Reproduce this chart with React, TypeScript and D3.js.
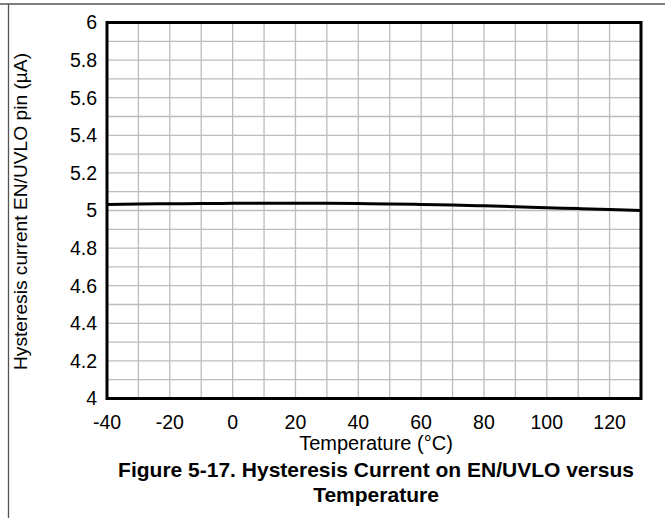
import React from "react";
import * as d3 from "d3";

const temps = [-40, -30, -20, -10, 0, 10, 20, 30, 40, 50, 60, 70, 80, 90, 100, 110, 120, 130];
const current = [5.032, 5.034, 5.036, 5.037, 5.038, 5.038, 5.039, 5.038, 5.037, 5.035, 5.032, 5.029, 5.025, 5.02, 5.015, 5.01, 5.005, 5.0];
const xTicks = [-40, -20, 0, 20, 40, 60, 80, 100, 120];
const yTicks = [4, 4.2, 4.4, 4.6, 4.8, 5, 5.2, 5.4, 5.6, 5.8, 6];
const xTitle = "Temperature (°C)";
const yTitle = "Hysteresis current EN/UVLO pin (µA)";
const titleLines = ["Figure 5-17. Hysteresis Current on EN/UVLO versus", "Temperature"];

export default function App() {
  const W = 665, H = 518;
  const L = 107, R = 641, T = 22.5, B = 398.5;
  const x = d3.scaleLinear().domain([-40, 130]).range([L, R]);
  const y = d3.scaleLinear().domain([4, 6]).range([B, T]);
  const xGrid = d3.range(-40, 131, 10);
  const yGrid = d3.range(0, 21).map((i) => 4 + i * 0.1);
  const line = d3
    .line<number>()
    .x((_, i) => x(temps[i]))
    .y((d) => y(d))
    .curve(d3.curveMonotoneX);
  const font = "'Liberation Sans', Arial, sans-serif";
  return (
    <svg
      width={W}
      height={H}
      style={{ position: "absolute", left: 0, top: 0, background: "#fff" }}
      fontFamily={font}
    >
      <line x1={0} x2={W} y1={4} y2={4} stroke="#555" strokeWidth={1.3} />
      <line x1={8.5} x2={8.5} y1={4} y2={H} stroke="#555" strokeWidth={1.3} />
      {xGrid.map((v) => (
        <line key={"xg" + v} x1={x(v)} x2={x(v)} y1={T} y2={B} stroke="#bdbdbd" strokeWidth={1.3} />
      ))}
      {yGrid.map((v, i) => (
        <line key={"yg" + i} x1={L} x2={R} y1={y(v)} y2={y(v)} stroke="#bdbdbd" strokeWidth={1.3} />
      ))}
      <path d={line(current) || ""} fill="none" stroke="#000" strokeWidth={3} />
      <rect x={L} y={T} width={R - L} height={B - T} fill="none" stroke="#000" strokeWidth={3} />
      {yTicks.map((v) => (
        <text key={"yt" + v} x={L - 10} y={y(v)} dy="0.35em" textAnchor="end" fontSize={19.5} fill="#000">
          {d3.format("~g")(v)}
        </text>
      ))}
      {xTicks.map((v) => (
        <text key={"xt" + v} x={x(v)} y={429} textAnchor="middle" fontSize={19.5} fill="#000">
          {v}
        </text>
      ))}
      <text x={376} y={450} textAnchor="middle" fontSize={20} fill="#000">
        {xTitle}
      </text>
      <text
        transform={`translate(27,${(T + B) / 2 + 1}) rotate(-90)`}
        textAnchor="middle"
        fontSize={19.2}
        fill="#000"
      >
        {yTitle}
      </text>
      {titleLines.map((t, i) => (
        <text key={"t" + i} x={376} y={477 + i * 24.5} textAnchor="middle" fontSize={21} fontWeight="bold" fill="#000">
          {t}
        </text>
      ))}
    </svg>
  );
}
